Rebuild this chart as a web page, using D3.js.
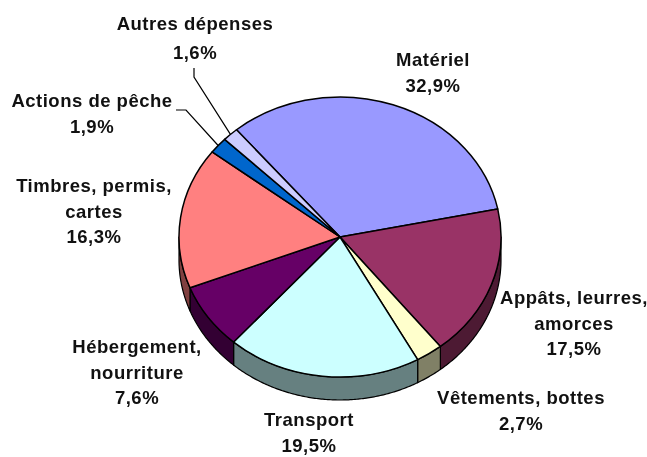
<!DOCTYPE html>
<html>
<head>
<meta charset="utf-8">
<script src="https://cdn.jsdelivr.net/npm/d3@7"></script>
<style>
html, body { margin: 0; padding: 0; background: #fff; }
svg { filter: blur(0.4px); }
text { font-family: "Liberation Sans", Arial, sans-serif; font-size: 18.5px; font-weight: bold; letter-spacing: 0.5px; fill: #111; text-anchor: middle; }
</style>
</head>
<body>
<script>
var categories = ["Matériel", "Appâts, leurres, amorces", "Vêtements, bottes", "Transport", "Hébergement, nourriture", "Timbres, permis, cartes", "Actions de pêche", "Autres dépenses"];
var values = [32.9, 17.5, 2.7, 19.5, 7.6, 16.3, 1.9, 1.6];
var valueLabels = ["32,9%", "17,5%", "2,7%", "19,5%", "7,6%", "16,3%", "1,9%", "1,6%"];
var colors = ["#9999ff", "#993366", "#ffffcc", "#ccffff", "#660066", "#ff8080", "#0066cc", "#ccccff"];

// label layout: centre x, first baseline, lines, line spacing
var labelLayout = [
	{x: 433, y: 66, dy: 25.5, lines: ["Matériel"]},
	{x: 574, y: 304, dy: 25.5, lines: ["Appâts, leurres,", "amorces"]},
	{x: 521, y: 404, dy: 26, lines: ["Vêtements, bottes"]},
	{x: 309, y: 426, dy: 26, lines: ["Transport"]},
	{x: 137, y: 353, dy: 25.5, lines: ["Hébergement,", "nourriture"]},
	{x: 94, y: 192, dy: 25.5, lines: ["Timbres, permis,", "cartes"]},
	{x: 92, y: 107, dy: 25.5, lines: ["Actions de pêche"]},
	{x: 195, y: 30, dy: 29, lines: ["Autres dépenses"]}
];

var width = 647, height = 457,
	cx = 340, cy = 237,
	rx = 161, ry = 140,
	depth = 23;

var startAngle = -40 * Math.PI / 180;

var svg = d3.select("body").append("svg")
	.attr("width", width)
	.attr("height", height)
	.style("display", "block");

var pie = d3.pie()
	.sort(null)
	.startAngle(startAngle)
	.endAngle(startAngle + 2 * Math.PI);

var arcs = pie(values);

function px(a) { return cx + rx * Math.sin(a); }
function py(a) { return cy - ry * Math.cos(a); }

// side wall, only the part of each slice facing the viewer
var wallMin = Math.PI / 2, wallMax = 3 * Math.PI / 2;

function wallPath(d) {
	var a0 = Math.max(d.startAngle, wallMin);
	var a1 = Math.min(d.endAngle, wallMax);
	if (a1 <= a0) return null;
	var angles = d3.range(a0, a1, 0.01).concat([a1]);
	var top = angles.map(function(a) { return [px(a), py(a)]; });
	var bottom = angles.slice().reverse().map(function(a) { return [px(a), py(a) + depth]; });
	return d3.line()(top.concat(bottom)) + "Z";
}

svg.append("g").selectAll("path")
	.data(arcs)
	.enter().append("path")
	.attr("d", wallPath)
	.attr("fill", function(d, i) {
		var c = d3.rgb(colors[i]);
		return d3.rgb(c.r * 0.5, c.g * 0.5, c.b * 0.5);
	})
	.attr("stroke", "#000")
	.attr("stroke-width", 1.2)
	.attr("stroke-linejoin", "round");

// top face, drawn as a circle pie squashed to the ellipse
var arc = d3.arc().innerRadius(0).outerRadius(rx);

svg.append("g")
	.attr("transform", "translate(" + cx + "," + cy + ") scale(1," + (ry / rx) + ")")
	.selectAll("path")
	.data(arcs)
	.enter().append("path")
	.attr("d", arc)
	.attr("fill", function(d, i) { return colors[i]; })
	.attr("stroke", "#000")
	.attr("stroke-width", 1.5)
	.attr("stroke-linejoin", "round")
	.attr("vector-effect", "non-scaling-stroke");

// leader lines for the two small slices
var leaders = [
	{index: 6, points: [[176, 110], [186, 110]]},
	{index: 7, points: [[194, 68], [194, 77]]}
];

svg.append("g").selectAll("path")
	.data(leaders)
	.enter().append("path")
	.attr("d", function(d) {
		var a = (arcs[d.index].startAngle + arcs[d.index].endAngle) / 2;
		return d3.line()(d.points.concat([[px(a), py(a)]]));
	})
	.attr("fill", "none")
	.attr("stroke", "#000")
	.attr("stroke-width", 1.2);

var labels = svg.append("g").selectAll("text")
	.data(labelLayout)
	.enter().append("text")
	.attr("transform", function(d) { return "translate(" + d.x + "," + d.y + ")"; });

labels.selectAll("tspan")
	.data(function(d, i) {
		return d.lines.concat([valueLabels[i]]).map(function(t) { return {text: t, dy: d.dy}; });
	})
	.enter().append("tspan")
	.attr("x", 0)
	.attr("y", function(d, i) { return i * d.dy; })
	.text(function(d) { return d.text; });
</script>
</body>
</html>
